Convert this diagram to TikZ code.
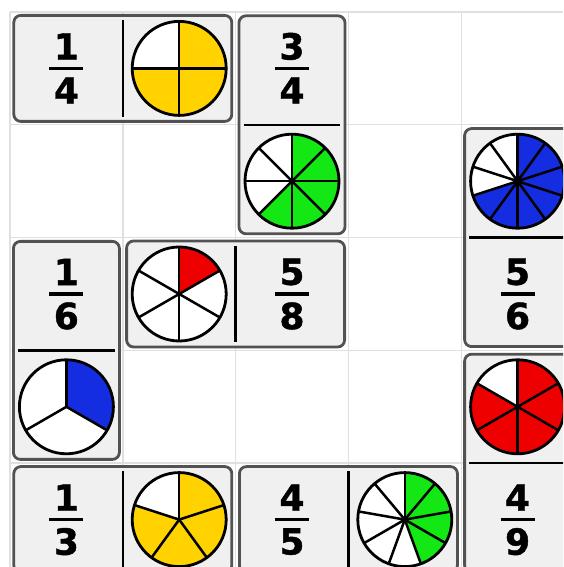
\documentclass[tikz,border=0pt]{standalone}
\usepackage{fontspec}
\setsansfont{DejaVu Sans}
\newfontfamily\digitfont{DejaVu Sans Bold}[FakeBold=1.2]
\usepackage{tikz}
\usetikzlibrary{calc}

\definecolor{pieyellow}{RGB}{255,210,0}
\definecolor{piegreen}{RGB}{20,232,20}
\definecolor{pieblue}{RGB}{20,45,225}
\definecolor{piered}{RGB}{238,0,0}

% half, numerator, denominator
\newcommand{\fracpart}[3]{%
  \node[digit] (#1-num) at ($(#1)+(0,22)$) {#2};
  \node[digit] (#1-den) at ($(#1)+(0,-22)$) {#3};
  \draw[fracbar] ($(#1)+(-17,0)$) -- ($(#1)+(17,0)$);
}
% half, sectors, filled, colour
\newcommand{\piechart}[4]{%
  \fill[white] (#1) circle[radius=47pt];
  \foreach \k in {1,...,#3}
    \fill[#4] (#1) -- ++({90-360*(\k-1)/#2}:47pt)
      arc[start angle={90-360*(\k-1)/#2}, delta angle={-360/#2}, radius=47pt] -- cycle;
  \foreach \k in {1,...,#2}
    \draw[spoke] (#1) -- ++({90-360*\k/#2}:47pt);
  \draw[rim] (#1) circle[radius=47pt];
}

\begin{document}
\begin{tikzpicture}[
    x=1pt, y=1pt,
    gridline/.style={draw=black!12, line width=1.4pt},
    domino/.style={draw=black!68, line width=2.8pt, fill=black!6, rounded corners=7pt, inner sep=0pt},
    hdomino/.style={domino, minimum width=218pt, minimum height=106pt},
    vdomino/.style={domino, minimum width=106pt, minimum height=218pt},
    divider/.style={black, line width=2.4pt, shorten >=6pt, shorten <=6pt},
    digit/.style={inner sep=0pt, font=\digitfont\fontsize{36}{36}\selectfont},
    fracbar/.style={black, line width=3.2pt},
    spoke/.style={black, line width=2.5pt},
    rim/.style={black, line width=2.8pt}
]
\useasboundingbox (0,0) rectangle (563,567);
\clip (0,0) rectangle (563,567);
\fill[white] (0,0) rectangle (563,567);

% board
\foreach \i in {0,...,4} {
  \draw[gridline] (10+112.8*\i,0) -- (10+112.8*\i,555);
  \draw[gridline] (10,555-112.8*\i) -- (563,555-112.8*\i);
}

% dominoes
\node[hdomino] (d1) at (122.8,498.6) {};
\node[vdomino] (d2) at (292,442.2) {};
\node[vdomino] (d3) at (517.6,329.4) {};
\node[vdomino] (d4) at (66.4,216.6) {};
\node[hdomino] (d5) at (235.6,273) {};
\node[vdomino] (d6) at (517.6,103.8) {};
\node[hdomino] (d7) at (122.8,47.4) {};
\node[hdomino] (d8) at (348.4,47.4) {};

% dividers and half centres
\foreach \d in {d1,d5,d7,d8} {
  \draw[divider] (\d.north) -- (\d.south);
  \coordinate (\d-a) at ($(\d.center)+(-56.4,0)$);
  \coordinate (\d-b) at ($(\d.center)+(56.4,0)$);
}
\foreach \d in {d2,d3,d4,d6} {
  \draw[divider] (\d.west) -- (\d.east);
  \coordinate (\d-a) at ($(\d.center)+(0,56.4)$);
  \coordinate (\d-b) at ($(\d.center)+(0,-56.4)$);
}

% faces
\fracpart{d1-a}{1}{4} \piechart{d1-b}{4}{3}{pieyellow}
\fracpart{d2-a}{3}{4} \piechart{d2-b}{8}{5}{piegreen}
\piechart{d3-a}{10}{7}{pieblue} \fracpart{d3-b}{5}{6}
\fracpart{d4-a}{1}{6} \piechart{d4-b}{3}{1}{pieblue}
\piechart{d5-a}{6}{1}{piered} \fracpart{d5-b}{5}{8}
\piechart{d6-a}{6}{5}{piered} \fracpart{d6-b}{4}{9}
\fracpart{d7-a}{1}{3} \piechart{d7-b}{5}{4}{pieyellow}
\fracpart{d8-a}{4}{5} \piechart{d8-b}{9}{4}{piegreen}
\end{tikzpicture}
\end{document}
